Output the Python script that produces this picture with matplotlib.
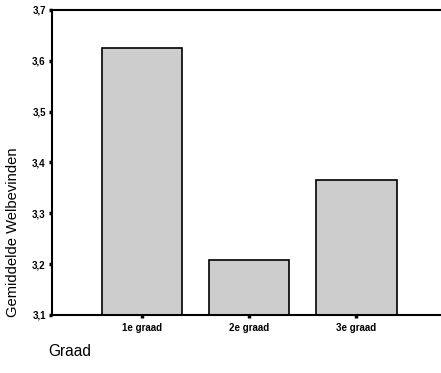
import matplotlib.pyplot as plt
import numpy as np

# Data
categories = ['1e graad', '2e graad', '3e graad']
means = [3.625, 3.208, 3.365]
yticks = [3.1, 3.2, 3.3, 3.4, 3.5, 3.6, 3.7]
ytick_labels = ['3,1', '3,2', '3,3', '3,4', '3,5', '3,6', '3,7']

plt.rcParams['font.family'] = ['Liberation Sans', 'DejaVu Sans']

fig = plt.figure(figsize=(4.41, 3.73), dpi=100)
ax = fig.add_axes([0.118, 0.1555, 0.882, 0.8177])

x = np.arange(len(categories))
ax.bar(x, [m - 3.1 for m in means], bottom=3.1, width=0.75,
       color='#cdcdcd', edgecolor='black', linewidth=1.2, zorder=2)

ax.set_xlim(-0.84, 2.79)
ax.set_ylim(3.1, 3.7)
ax.set_yticks(yticks)
ax.set_yticklabels(ytick_labels, fontsize=7, fontweight='bold')
ax.set_xticks(x)
ax.set_xticklabels(categories, fontsize=7, fontweight='bold')
ax.tick_params(axis='y', length=2.5, width=2.5, pad=2)
ax.tick_params(axis='x', length=2.5, width=2.5, pad=3)

ax.spines['right'].set_visible(False)
for s in ['left', 'top', 'bottom']:
    ax.spines[s].set_linewidth(1.5)

fig.text(0.029, 1 - 317 / 373, 'Gemiddelde Welbevinden', rotation=90,
         ha='center', va='bottom', fontsize=10.6)
fig.text(0.109, 1 - 352 / 373, 'Graad', ha='left', va='center', fontsize=11.2)

fig.savefig('out.png', dpi=100)
